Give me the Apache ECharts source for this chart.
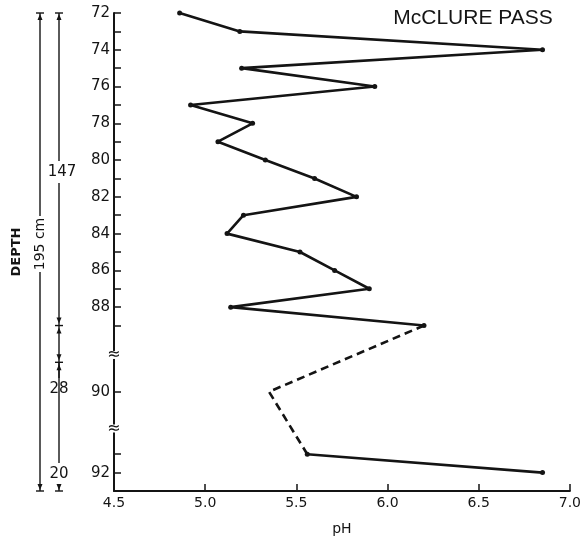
<!DOCTYPE html>
<html>
<head>
<meta charset="utf-8">
<script src="https://cdn.jsdelivr.net/npm/echarts@6/dist/echarts.min.js"></script>
<style>
  html, body { margin: 0; padding: 0; background: #fff; }
  #chart { width: 584px; height: 541px; }
</style>
</head>
<body>
<div id="chart"></div>
<script>
// Samples down the McClure Pass profile and their measured pH
const samples  = [72, 73, 74, 75, 76, 77, 78, 79, 80, 81, 82, 83, 84, 85, 86, 87, 88, 89, 90, 91, 92];
const phValues = [4.86, 5.19, 6.85, 5.20, 5.93, 4.92, 5.26, 5.07, 5.33, 5.60, 5.83, 5.21, 5.12, 5.52, 5.71, 5.90, 5.14, 6.20, 5.35, 5.56, 6.85];

// Samples joined by a dashed line (across the axis breaks)
const dashedSamples = [89, 90, 91];

// Axis position of each sample: one unit per sample down to 89, stretched across the breaks below
const stretchedPos = { 90: 92.6, 91: 96, 92: 97 };
const axisPos = s => (s in stretchedPos ? stretchedPos[s] : s);

// Depth axis labels and the pH ticks
const depthLabels = [72, 74, 76, 78, 80, 82, 84, 86, 88, 90, 92];
const phTicks = [4.5, 5.0, 5.5, 6.0, 6.5, 7.0];
const breakPos = [90.6, 94.6];

// Depth intervals (cm) shown in the bracket column; ends given as sample positions
const totalDepth = '195 cm';
const intervals = [
  { cm: '147', from: 72, to: 89 },
  { cm: '28',  from: 89, to: 91 },
  { cm: '20',  from: 91, to: 'end' }
];

const INK = '#141414';
const FONT = '"DejaVu Sans", sans-serif';

const points = samples.map((s, i) => [phValues[i], axisPos(s)]);
const pick = list => samples.map((s, i) => list(s) ? points[i] : null).filter(p => p);

const solidTop    = pick(s => s <= 89);
const dashedMid   = pick(s => dashedSamples.includes(s));
const solidBottom = pick(s => s >= 91);

const tickPos = samples.map(axisPos);
const labelPos = depthLabels.map(axisPos);
const labelText = {};
depthLabels.forEach(d => { labelText[axisPos(d)] = String(d); });

const chart = echarts.init(document.getElementById('chart'), null, { renderer: 'canvas' });

const lineSeries = (data, type, withSymbols) => ({
  type: 'line',
  data: data,
  symbol: 'circle',
  symbolSize: withSymbols ? 5 : 0,
  showSymbol: withSymbols,
  itemStyle: { color: INK },
  lineStyle: { color: INK, width: 2.6, type: type },
  animation: false,
  silent: true,
  z: 3
});

chart.setOption({
  backgroundColor: '#fff',
  animation: false,
  grid: { left: 114, right: 11, top: 13, bottom: 50 },
  xAxis: {
    type: 'value',
    min: phTicks[0],
    max: phTicks[phTicks.length - 1],
    interval: 0.5,
    axisLine: { show: true, lineStyle: { color: INK, width: 2 } },
    axisTick: { show: true, inside: true, length: 7, lineStyle: { color: INK, width: 1.5 } },
    axisLabel: { color: INK, fontFamily: 'DejaVu Sans', fontSize: 14, margin: 5, formatter: v => v.toFixed(1) },
    splitLine: { show: false },
    name: 'pH',
    nameLocation: 'middle',
    nameGap: 31,
    nameTextStyle: { color: INK, fontFamily: 'DejaVu Sans', fontSize: 14 }
  },
  yAxis: {
    type: 'value',
    inverse: true,
    min: 72,
    max: 98,
    axisLine: { show: true, lineStyle: { color: INK, width: 2 } },
    axisTick: { show: true, inside: true, length: 7, customValues: tickPos, lineStyle: { color: INK, width: 1.5 } },
    axisLabel: {
      customValues: labelPos,
      color: INK, fontFamily: 'DejaVu Sans', fontSize: 15, margin: 4,
      formatter: v => labelText[v] || ''
    },
    splitLine: { show: false }
  },
  series: [
    lineSeries(solidTop, 'solid', true),
    lineSeries(dashedMid, [8, 5], false),
    lineSeries(solidBottom, 'solid', true)
  ]
});

// Annotations: axis breaks, title, and the depth bracket column
const yPix = p => chart.convertToPixel({ yAxisIndex: 0 }, p);
const axisX = chart.convertToPixel({ xAxisIndex: 0 }, phTicks[0]);
const yTop = yPix(72), yBottom = yPix(98);

const g = [];
const seg = (x1, y1, x2, y2, w) => g.push({
  type: 'line', shape: { x1, y1, x2, y2 }, style: { stroke: INK, lineWidth: w || 1.4 }, silent: true
});
const tri = pts => g.push({ type: 'polygon', shape: { points: pts }, style: { fill: INK }, silent: true });
const txt = (x, y, text, size, rot, extra) => g.push(Object.assign({
  type: 'text', x, y, rotation: rot || 0, silent: true,
  style: { text, fill: INK, font: (size || 15) + 'px ' + FONT, textAlign: 'center', textVerticalAlign: 'middle' }
}, extra || {}));

// break marks on the depth axis
breakPos.forEach(p => {
  const y = yPix(p);
  g.push({ type: 'rect', shape: { x: axisX - 5, y: y - 4, width: 10, height: 8 }, style: { fill: '#fff' }, silent: true, z: 5 });
  txt(axisX, y, '≈', 16, 0, { z: 6 });
});

// title
g.push({
  type: 'text', x: 473, y: 18, silent: true,
  style: { text: 'McCLURE PASS', fill: INK, font: '21px "Liberation Sans", Arial, sans-serif', textAlign: 'center', textVerticalAlign: 'middle' }
});

// caps and arrowheads for bracket ends
const capTop = (x, y) => { seg(x - 4, y, x + 4, y); tri([[x, y + 1], [x - 2.5, y + 7], [x + 2.5, y + 7]]); };
const capBottom = (x, y) => { seg(x - 4, y, x + 4, y); tri([[x, y - 1], [x - 2.5, y - 7], [x + 2.5, y - 7]]); };
const capMid = (x, y) => {
  seg(x - 4, y, x + 4, y);
  tri([[x, y - 2], [x - 2.5, y - 8], [x + 2.5, y - 8]]);
  tri([[x, y + 2], [x - 2.5, y + 8], [x + 2.5, y + 8]]);
};

// total depth bracket
const xA = 40;
const totalMid = 244;
seg(xA, yTop, xA, totalMid - 28);
seg(xA, totalMid + 28, xA, yBottom);
capTop(xA, yTop);
capBottom(xA, yBottom);
txt(xA, totalMid, totalDepth, 14, Math.PI / 2);

// interval brackets
const xB = 59;
const labelY = [172, 389, 474];
intervals.forEach((iv, k) => {
  const y1 = yPix(iv.from);
  const y2 = iv.to === 'end' ? yBottom : yPix(iv.to);
  const ly = labelY[k];
  if (ly - 11 > y1 + 2) seg(xB, y1, xB, ly - 11);
  if (ly + 11 < y2 - 2) seg(xB, ly + 11, xB, y2);
  txt(xB + (k === 0 ? 3 : 0), ly, iv.cm, 15);
  if (k === 0) capTop(xB, y1);
  if (iv.to === 'end') capBottom(xB, y2); else capMid(xB, y2);
});

// axis title for depth
txt(17, 252, 'DEPTH', 14, Math.PI / 2, { style: { text: 'DEPTH', fill: INK, font: 'bold 13px ' + FONT, textAlign: 'center', textVerticalAlign: 'middle' } });

chart.setOption({ graphic: { elements: g } });
</script>
</body>
</html>
